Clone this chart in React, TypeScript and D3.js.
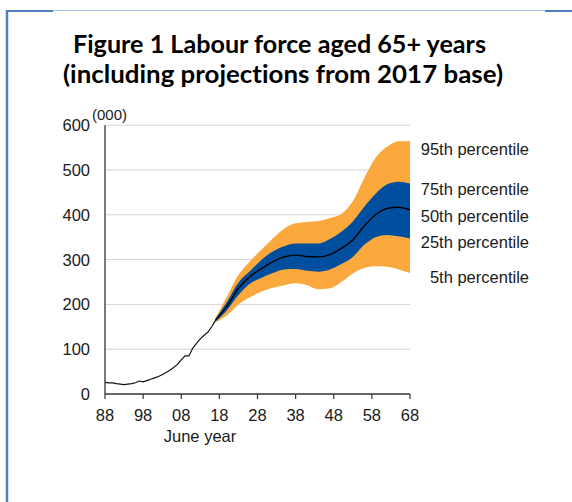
import React from "react";
import * as d3 from "d3";

// Historical labour force aged 65+ (000), June years
const histYears = [1988,1989,1990,1991,1992,1993,1994,1995,1996,1997,1998,1999,2000,2001,2002,2003,2004,2005,2006,2007,2008,2009,2010,2011,2012,2013,2014,2015,2016,2017];
const histValues = [26,25,25,23,22,21,22,23,25,29,27,30,33,36,39,43,48,53,59,66,76,85,85,102,113,123,131,138,150,165];

// Projection percentiles (000)
const projYears = [2017,2020,2023,2026,2029,2032,2035,2038,2041,2044,2047,2050,2053,2056,2059,2062,2065,2068];
const p95 = [170,218,266,296,322,347,369,381,384,386,393,402,430,482,528,552,564,565];
const p75 = [168,206,249,274,299,318,330,336,336,336,346,362,385,418,447,468,474,470];
const p50 = [165,196,236,262,280,295,306,310,307,306,311,325,344,375,400,414,417,411];
const p25 = [162,187,221,246,259,270,278,279,275,273,278,290,306,333,350,355,352,347];
const p5 = [160,176,200,216,228,237,243,247,243,234,236,250,269,281,285,284,278,270];

const xTicks = [1988,1998,2008,2018,2028,2038,2048,2058,2068];
const yTicks = [0,100,200,300,400,500,600];
const legendLabels = ["95th percentile","75th percentile","50th percentile","25th percentile","5th percentile"];
const titleLines = ["Figure 1 Labour force aged 65+ years","(including projections from 2017 base)"];

export default function App() {
  const W = 572, H = 502;
  const x = d3.scaleLinear().domain([1988, 2068]).range([105, 410]);
  const y = d3.scaleLinear().domain([0, 600]).range([394, 125.2]);

  const band = (lo: number[], hi: number[]) =>
    d3.area<number>()
      .x((_, i) => x(projYears[i]))
      .y0((_, i) => y(lo[i]))
      .y1((_, i) => y(hi[i]))
      .curve(d3.curveMonotoneX)(projYears)!;

  const histLine = d3.line<number>()
    .x((_, i) => x(histYears[i]))
    .y((d) => y(d))(histValues)!;
  const medLine = d3.line<number>()
    .x((_, i) => x(projYears[i]))
    .y((d) => y(d))
    .curve(d3.curveMonotoneX)(p50)!;

  const legendY = [155, 195, 222, 248, 283];
  const font = "'Liberation Sans', Arial, sans-serif";
  const fs = 16.5;
  const txt = "#1a1a1a";
  const titleStyle = { fontVariantLigatures: "none" as const };

  return (
    <svg width={W} height={H} style={{ position: "absolute", left: 0, top: 0, background: "#fff" }}>
      <rect x={0} y={0} width={W} height={H} fill="#fff" />
      {/* frame */}
      <line x1={7} y1={10} x2={7} y2={H} stroke="#4F81BD" strokeWidth={2.5} />
      <line x1={6} y1={11} x2={53} y2={11} stroke="#4F81BD" strokeWidth={2} />
      <line x1={53} y1={10.5} x2={545} y2={10.5} stroke="#A7BEDF" strokeWidth={1} />
      <line x1={545} y1={11} x2={W} y2={11} stroke="#4F81BD" strokeWidth={2} />

      {/* title */}
      <text x={73} y={53} fontFamily="Lato, 'Open Sans', sans-serif" fontWeight="bold" fontSize={24} fill="#000"
        textLength={413} lengthAdjust="spacingAndGlyphs" style={titleStyle}>{titleLines[0]}</text>
      <text x={63} y={83} fontFamily="Lato, 'Open Sans', sans-serif" fontWeight="bold" fontSize={24} fill="#000"
        textLength={440} lengthAdjust="spacingAndGlyphs" style={titleStyle}>{titleLines[1]}</text>

      {/* gridlines */}
      {yTicks.filter(t => t > 0).map(t => (
        <line key={t} x1={x(1988)} x2={x(2068)} y1={y(t)} y2={y(t)} stroke="#d4d4d4" strokeWidth={1} />
      ))}

      {/* fan */}
      <path d={band(p5, p95)} fill="#FBA83C" />
      <path d={band(p25, p75)} fill="#004F9F" />
      <path d={medLine} fill="none" stroke="#000" strokeWidth={1.4} />
      <path d={histLine} fill="none" stroke="#111" strokeWidth={1.2} />

      {/* axes */}
      <line x1={x(1988)} x2={x(1988)} y1={y(600)} y2={y(0)} stroke="#333" strokeWidth={1.3} />
      <line x1={x(1988)} x2={x(2068)} y1={y(0)} y2={y(0)} stroke="#333" strokeWidth={1.3} />
      {xTicks.map(t => (
        <g key={t}>
          <line x1={x(t)} x2={x(t)} y1={y(0)} y2={y(0) + 5} stroke="#333" strokeWidth={1.2} />
          <text x={x(t)} y={421} textAnchor="middle" fontFamily={font} fontSize={fs} fill={txt}>
            {String(t % 100).padStart(2, "0")}
          </text>
        </g>
      ))}
      {yTicks.map(t => (
        <text key={t} x={90} y={y(t) + 6} textAnchor="end" fontFamily={font} fontSize={fs} fill={txt}>{t}</text>
      ))}
      <text x={92} y={120} fontFamily={font} fontSize={15} fill={txt}>(000)</text>
      <text x={200} y={442} textAnchor="middle" fontFamily={font} fontSize={fs} fill={txt}>June year</text>

      {/* legend labels */}
      {legendLabels.map((l, i) => (
        <text key={l} x={529} y={legendY[i]} textAnchor="end" fontFamily={font} fontSize={fs} fill={txt}>{l}</text>
      ))}
    </svg>
  );
}
